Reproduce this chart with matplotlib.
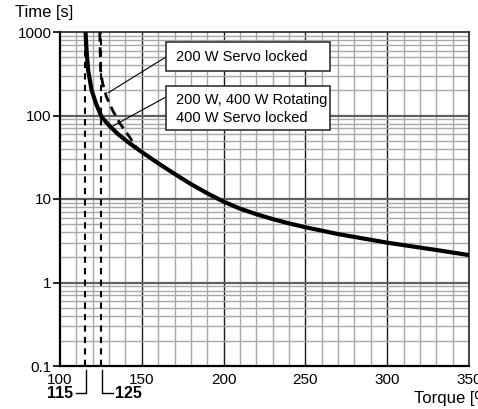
import numpy as np
import matplotlib.pyplot as plt
from matplotlib.patches import Rectangle
from matplotlib.ticker import FixedLocator, NullFormatter

plt.rcParams['font.family'] = ['Liberation Sans', 'DejaVu Sans']

# overload curve: 200 W / 400 W rotating, 400 W servo locked
torque_solid = [115.6, 116.2, 117.2, 119.3, 121.9, 125.4, 130, 135, 140, 145,
                150, 160, 170, 180, 190, 200, 210, 220, 230, 240, 250,
                270, 300, 330, 350]
time_solid = [1000, 608, 351, 202, 141, 96, 75.9, 61, 50.7, 42.9,
              36.5, 26.8, 20.0, 15.1, 11.7, 9.3, 7.67, 6.58, 5.75, 5.1, 4.59,
              3.8, 3.0, 2.45, 2.13]

# 200 W servo locked
torque_dash = [124.3, 124.8, 126.0, 128.4, 132.1, 136.5, 142.6, 147.0]
time_dash = [1000, 351, 245, 167, 116, 81, 55, 40.2]

limit_lines = [115, 125]
x_ticks = [100, 150, 200, 250, 300, 350]
y_ticks = [0.1, 1, 10, 100, 1000]
y_labels = ['0.1', '1', '10', '100', '1000']

W, H = 478, 409


def fx(px):
    return px / W


def fy(py):
    return 1 - py / H


fig = plt.figure(figsize=(W / 100, H / 100), dpi=100)
ax = fig.add_axes([fx(60), fy(366), 409 / W, 334 / H])
ax.set_yscale('log')
ax.set_xlim(100, 350)
ax.set_ylim(0.1, 1000)

# grid
for x in range(110, 350, 10):
    if x % 50 == 0:
        ax.axvline(x, color='#1a1a1a', lw=1.0, zorder=1)
    else:
        ax.axvline(x, color='#a8a8a8', lw=1.0, zorder=1)
for dec in [0.1, 1, 10, 100]:
    for m in range(2, 10):
        ax.axhline(dec * m, color='#a8a8a8', lw=1.0, zorder=1)
for y in [1, 10, 100]:
    ax.axhline(y, color='#606060', lw=1.6, zorder=1)

for x in limit_lines:
    ax.axvline(x, color='black', lw=1.5, ls=(0, (3, 2.5)), zorder=2)

ax.plot(torque_dash, time_dash, color='black', lw=2.0, ls=(0, (3.5, 2)), zorder=3)
ax.plot(torque_solid, time_solid, color='black', lw=3.0, zorder=4,
        solid_joinstyle='round')

ax.yaxis.set_major_locator(FixedLocator(y_ticks))
ax.set_yticklabels(y_labels)
ax.yaxis.set_minor_formatter(NullFormatter())
ax.tick_params(axis='y', which='minor', length=0)
ax.tick_params(axis='y', which='major', length=5, width=1.2, direction='out',
               labelsize=11, pad=1)
ax.set_xticks(x_ticks)
ax.tick_params(axis='x', which='major', length=0, labelsize=11, pad=5)

for s in ['left', 'bottom']:
    ax.spines[s].set_linewidth(1.6)
for s in ['top', 'right']:
    ax.spines[s].set_linewidth(1.2)
    ax.spines[s].set_color('#222222')

# annotation boxes
for top, bot in [(42, 71), (86, 130)]:
    fig.add_artist(Rectangle((fx(166), fy(bot)), fx(330) - fx(166), fy(top) - fy(bot),
                             transform=fig.transFigure, fc='white', ec='#333333',
                             lw=1.2, zorder=10))
fig.text(fx(176), fy(57), '200 W Servo locked', fontsize=10.5,
         va='center', ha='left', zorder=11)
fig.text(fx(176), fy(100), '200 W, 400 W Rotating', fontsize=10.5,
         va='center', ha='left', zorder=11)
fig.text(fx(176), fy(118), '400 W Servo locked', fontsize=10.5,
         va='center', ha='left', zorder=11)
ax.annotate('', xy=(129.4, 187), xytext=(fx(166), fy(57)),
            textcoords='figure fraction',
            arrowprops=dict(arrowstyle='-', lw=0.8, color='black',
                            shrinkA=0, shrinkB=0))
ax.annotate('', xy=(132.4, 75), xytext=(fx(166), fy(97)),
            textcoords='figure fraction',
            arrowprops=dict(arrowstyle='-', lw=0.8, color='black',
                            shrinkA=0, shrinkB=0))

# 115 / 125 markers below the axis
fig.add_artist(plt.Line2D([fx(86), fx(86), fx(76)], [fy(370), fy(393), fy(393)],
                          color='black', lw=1.0))
fig.add_artist(plt.Line2D([fx(102), fx(102), fx(113)], [fy(370), fy(393), fy(393)],
                          color='black', lw=1.0))
fig.text(fx(73), fy(393), '115', fontsize=11.5, fontweight='bold',
         ha='right', va='center')
fig.text(fx(115), fy(393), '125', fontsize=11.5, fontweight='bold',
         ha='left', va='center')

fig.text(fx(15), fy(13), 'Time [s]', fontsize=12, ha='left', va='center')
fig.text(fx(414), fy(398), 'Torque [%]', fontsize=12, ha='left', va='center')

fig.savefig('out.png', dpi=100)
